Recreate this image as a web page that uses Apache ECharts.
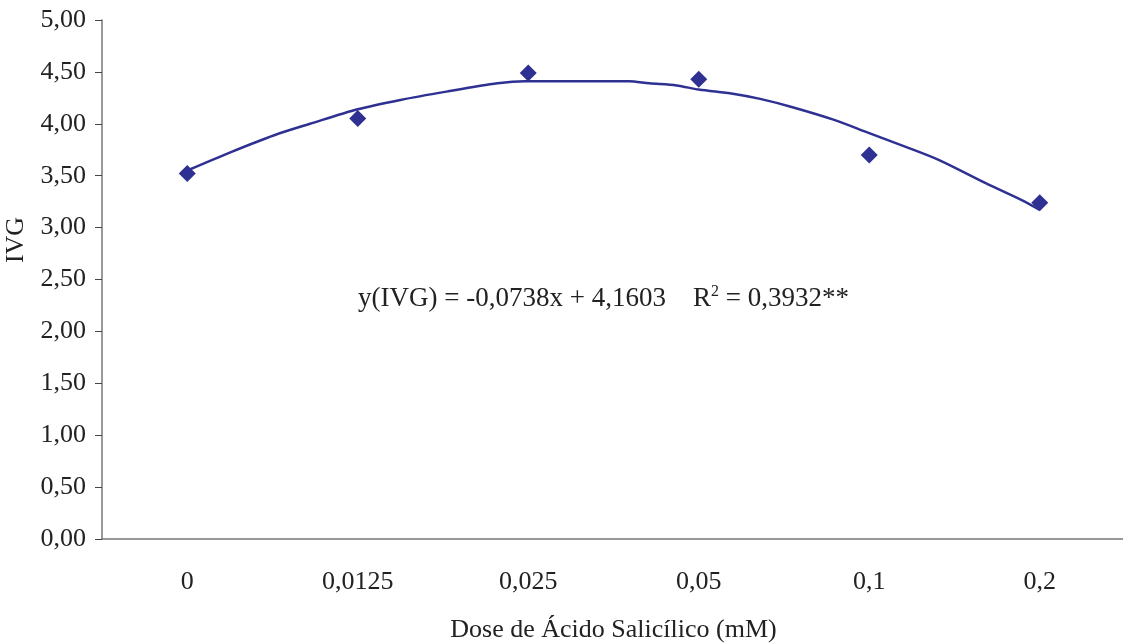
<!DOCTYPE html>
<html>
<head>
<meta charset="utf-8">
<script src="https://cdn.jsdelivr.net/npm/echarts@6/dist/echarts.min.js"></script>
<style>
html,body{margin:0;padding:0;background:#fff;}
#main{width:1123px;height:644px;}
</style>
</head>
<body>
<div id="main"></div>
<script>
// doses (categorias do eixo x)
var doses = ['0', '0,0125', '0,025', '0,05', '0,1', '0,2'];
// IVG medido
var ivg = [3.52, 4.05, 4.49, 4.43, 3.70, 3.24];
// linha de tendencia (posicao da categoria, valor)
var trendPos = [0, 0.26, 0.51, 0.72, 1.0, 1.25, 1.52, 1.82, 1.98, 2.59, 2.71, 2.87, 3.0, 3.2, 3.36, 3.55, 3.79, 4.0, 4.21, 4.41, 4.68, 4.9, 5.0];
var trendVal = [3.55, 3.73, 3.89, 4.00, 4.14, 4.23, 4.31, 4.39, 4.41, 4.41, 4.39, 4.37, 4.33, 4.29, 4.24, 4.16, 4.04, 3.91, 3.78, 3.65, 3.43, 3.26, 3.17];

var cor = '#2E3192';
var fonte = '"Liberation Serif", "DejaVu Serif", serif';

var trend = [];
for (var i = 0; i < trendPos.length; i++) {
    trend.push([trendPos[i], trendVal[i]]);
}

var myChart = echarts.init(document.getElementById('main'));
var option = {
    backgroundColor: '#fff',
    animation: false,
    textStyle: {fontFamily: fonte},
    grid: {left: 102, right: -2, top: 20, bottom: 105, outerBoundsMode: 'none'},
    xAxis: [{
        type: 'category',
        data: doses,
        name: 'Dose de Ácido Salicílico (mM)',
        nameLocation: 'middle',
        nameGap: 78,
        nameTextStyle: {fontFamily: fonte, fontSize: 26, color: '#222'},
        axisLine: {lineStyle: {color: '#777', width: 1.5}},
        axisTick: {length: 7, lineStyle: {color: '#444'}},
        axisLabel: {margin: 30, fontFamily: fonte, fontSize: 26, color: '#222'},
        splitLine: {show: false}
    }, {
        type: 'value',
        min: -0.5,
        max: 5.5,
        show: false
    }],
    yAxis: {
        type: 'value',
        min: 0,
        max: 5,
        interval: 0.5,
        axisLine: {show: true, onZero: false, lineStyle: {color: '#777', width: 1.5}},
        axisTick: {show: true, length: 7, lineStyle: {color: '#444'}},
        axisLabel: {
            margin: 16, fontFamily: fonte, fontSize: 26, color: '#222',
            formatter: function(v) { return v.toFixed(2).replace('.', ','); }
        },
        splitLine: {show: false}
    },
    series: [{
        name: 'tendencia',
        type: 'line',
        xAxisIndex: 1,
        data: trend,
        smooth: 0.3,
        symbol: 'none',
        lineStyle: {color: cor, width: 2.5},
        z: 2
    }, {
        name: 'IVG',
        type: 'scatter',
        data: ivg,
        symbol: 'diamond',
        symbolSize: 17,
        itemStyle: {color: cor, opacity: 1},
        z: 3
    }],
    graphic: [{
        type: 'text',
        x: 16,
        y: 240,
        rotation: Math.PI / 2,
        style: {
            text: 'IVG',
            font: '26px ' + fonte,
            fill: '#222',
            align: 'center',
            verticalAlign: 'middle'
        }
    }, {
        type: 'text',
        left: 358,
        top: 284,
        style: {
            text: 'y(IVG) = -0,0738x + 4,1603    R{s|2} = 0,3932**',
            rich: {s: {fontSize: 16, verticalAlign: 'top', padding: [0, 0, 14, 0], fontFamily: fonte, fill: '#222'}},
            font: '27px ' + fonte,
            fill: '#222'
        }
    }]
};
myChart.setOption(option);
</script>
</body>
</html>
